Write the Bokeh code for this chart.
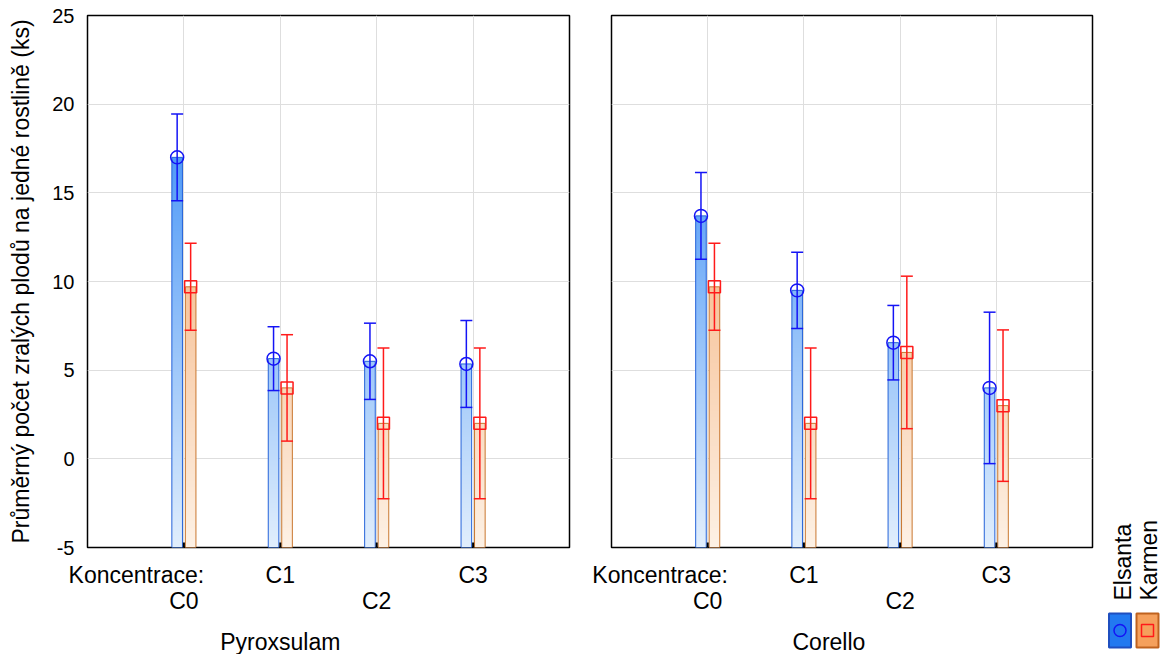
import numpy as np
from bokeh.plotting import figure
from bokeh.models import Range1d, FixedTicker
from bokeh.layouts import row, column
from bokeh.core.properties import value
from bokeh.embed import file_html
from bokeh.resources import INLINE

# ---- data ----
categories = ["C0", "C1", "C2", "C3"]
panels = ["Pyroxsulam", "Corello"]
series = ["Elsanta", "Karmen"]

pyro_elsanta_mean = [17.0, 5.65, 5.5, 5.35]
pyro_elsanta_err = [2.45, 1.8, 2.15, 2.45]
pyro_karmen_mean = [9.7, 4.0, 2.0, 2.0]
pyro_karmen_err = [2.45, 3.0, 4.25, 4.25]

corello_elsanta_mean = [13.7, 9.5, 6.55, 4.0]
corello_elsanta_err = [2.45, 2.15, 2.1, 4.27]
corello_karmen_mean = [9.7, 2.0, 6.0, 3.0]
corello_karmen_err = [2.45, 4.25, 4.3, 4.27]

y_ticks = [-5, 0, 5, 10, 15, 20, 25]
y_label = "Průměrný počet zralých plodů na jedné rostlině (ks)"
x_prefix = "Koncentrace:"

# ---- styles ----
FONT = "Liberation Sans"
YMIN, YMAX = -5, 25
XMIN, XMAX = 0, 5
FRAME_H = 532
PAGE_H = 654
TOP = 15
PANEL_BOTTOM = 12
BOT_H = PAGE_H - TOP - FRAME_H - PANEL_BOTTOM

grad = {
    "Elsanta": ((225, 238, 252), (30, 125, 245)),
    "Karmen": ((253, 241, 229), (240, 150, 80)),
}
edge = {"Elsanta": "#2563d9", "Karmen": "#c9772f"}
ecol = {"Elsanta": "#1414f5", "Karmen": "#ff1a1a"}
marker = {"Elsanta": "circle", "Karmen": "square"}
msize = {"Elsanta": 13, "Karmen": 12}
offset = {"Elsanta": -0.07, "Karmen": 0.07}
BW = 0.11


def gradient_img(top_val, name):
    n = max(2, int(round((top_val - YMIN) * 20)))
    ys = np.linspace(YMIN, top_val, n)
    t = (ys - YMIN) / (YMAX - YMIN)
    lo, hi = grad[name]
    img = np.empty((n, 1), dtype=np.uint32)
    v = img.view(dtype=np.uint8).reshape((n, 1, 4))
    for k in range(3):
        v[:, 0, k] = np.round(lo[k] + t * (hi[k] - lo[k])).astype(np.uint8)
    v[:, 0, 3] = 255
    return img


def make_panel(title, data, frame_w, border_l, border_r, show_y, title_x):
    p = figure(frame_width=frame_w, frame_height=FRAME_H,
               x_range=Range1d(XMIN, XMAX), y_range=Range1d(YMIN, YMAX),
               min_border_left=border_l, min_border_right=border_r,
               min_border_top=TOP, min_border_bottom=PANEL_BOTTOM,
               output_backend="svg", toolbar_location=None)
    p.frame_align = False
    p.outline_line_color = "black"
    p.outline_line_width = 1.5
    p.background_fill_color = "white"
    p.border_fill_color = "white"

    xpos = list(range(1, len(categories) + 1))
    p.xaxis.visible = False
    p.xgrid.ticker = FixedTicker(ticks=xpos)
    p.ygrid.ticker = FixedTicker(ticks=y_ticks)
    p.xgrid.grid_line_color = "#dedede"
    p.ygrid.grid_line_color = "#dedede"

    p.yaxis.ticker = FixedTicker(ticks=y_ticks)
    p.yaxis.major_tick_in = 0
    p.yaxis.major_tick_out = 0
    p.yaxis.minor_tick_line_color = None
    p.yaxis.axis_line_color = None
    if show_y:
        p.yaxis.major_label_overrides = {t: str(t) for t in y_ticks}
        p.yaxis.major_label_text_font = FONT
        p.yaxis.major_label_text_font_size = "20px"
        p.yaxis.major_label_text_color = "black"
        p.yaxis.major_label_standoff = 13
        p.yaxis.axis_label = y_label
        p.yaxis.axis_label_text_font = FONT
        p.yaxis.axis_label_text_font_size = "23px"
        p.yaxis.axis_label_text_font_style = "normal"
        p.yaxis.axis_label_text_color = "black"
        p.yaxis.axis_label_standoff = 15
    else:
        p.yaxis.visible = False

    for name in series:
        means, errs = data[name]
        xs = [x + offset[name] for x in xpos]
        for xc, m in zip(xs, means):
            p.image_rgba(image=[gradient_img(m, name)], x=xc - BW / 2, y=YMIN,
                         dw=BW, dh=m - YMIN)
        p.vbar(x=xs, top=means, bottom=YMIN, width=BW, fill_color=None,
               line_color=edge[name], line_width=1)
    # small inward ticks at the bottom edge (half of the dash is clipped)
    p.scatter(x=xpos, y=[YMIN] * len(xpos), marker="dash", angle=np.pi / 2,
              size=10, line_color="black", line_width=2)
    for name in series:
        means, errs = data[name]
        xs = [x + offset[name] for x in xpos]
        lo = [m - e for m, e in zip(means, errs)]
        hi = [m + e for m, e in zip(means, errs)]
        p.segment(x0=xs, y0=lo, x1=xs, y1=hi, line_color=ecol[name], line_width=1.5)
        p.scatter(x=xs, y=hi, marker="dash", size=12, line_color=ecol[name], line_width=1.5)
        p.scatter(x=xs, y=lo, marker="dash", size=12, line_color=ecol[name], line_width=1.5)
        p.scatter(x=xs, y=means, marker=marker[name], size=msize[name],
                  fill_color=None, line_color=ecol[name], line_width=1.5)

    # label strip under the panel, sharing the data x scale
    upp = (XMAX - XMIN) / frame_w
    total_w = border_l + frame_w + border_r
    b = figure(width=total_w, height=BOT_H,
               x_range=Range1d(XMIN - border_l * upp, XMAX + border_r * upp),
               y_range=Range1d(BOT_H, 0), min_border=0,
               x_axis_type=None, y_axis_type=None,
               output_backend="svg", toolbar_location=None)
    b.frame_align = False
    b.outline_line_color = None
    b.xgrid.visible = False
    b.ygrid.visible = False
    b.border_fill_color = "white"
    b.background_fill_color = "white"
    row1 = [c for i, c in enumerate(categories) if i % 2 == 1]
    row1x = [xpos[i] for i in range(len(categories)) if i % 2 == 1]
    row2 = [c for i, c in enumerate(categories) if i % 2 == 0]
    row2x = [xpos[i] for i in range(len(categories)) if i % 2 == 0]
    tf = dict(text_align="center", text_baseline="middle", text_font=value(FONT),
              text_font_size="23px", text_color="black")
    y1, y2, y3 = 27 - PANEL_BOTTOM, 53 - PANEL_BOTTOM, 94 - PANEL_BOTTOM
    b.text(x=row1x, y=[y1] * len(row1), text=row1, **tf)
    b.text(x=row2x, y=[y2] * len(row2), text=row2, **tf)
    b.text(x=[xpos[0] + 0.21], y=[y1], text=[x_prefix], text_align="right",
           text_baseline="middle", text_font=value(FONT), text_font_size="23px",
           text_color="black")
    b.text(x=[title_x], y=[y3], text=[title], **tf)
    return column(p, b)


c1 = make_panel(panels[0], {"Elsanta": (pyro_elsanta_mean, pyro_elsanta_err),
                            "Karmen": (pyro_karmen_mean, pyro_karmen_err)},
                482, 87, 15, True, 2.0)
c2 = make_panel(panels[1], {"Elsanta": (corello_elsanta_mean, corello_elsanta_err),
                            "Karmen": (corello_karmen_mean, corello_karmen_err)},
                481, 27, 10, False, 2.26)

# legend figure
LW = 62
pl = figure(width=LW, height=PAGE_H, x_range=Range1d(0, LW), y_range=Range1d(0, PAGE_H),
            min_border=0, x_axis_type=None, y_axis_type=None,
            output_backend="svg", toolbar_location=None)
pl.frame_align = False
pl.outline_line_color = None
pl.xgrid.visible = False
pl.ygrid.visible = False
pl.border_fill_color = "white"
pl.background_fill_color = "white"
leg_x = [20, 46]
sw_x = [17.5, 45]
sw_fill = {"Elsanta": "#2279f0", "Karmen": "#f5a05c"}
sw_line = {"Elsanta": "#1f4fbf", "Karmen": "#c0621e"}
for i, name in enumerate(series):
    pl.text(x=[leg_x[i]], y=[PAGE_H - 600], text=[name], angle=np.pi / 2,
            text_align="left", text_baseline="middle",
            text_font=value(FONT), text_font_size="23px", text_color="black")
    pl.rect(x=[sw_x[i]], y=[PAGE_H - 630], width=22, height=34,
            fill_color=sw_fill[name], line_color=sw_line[name], line_width=2)
    pl.scatter(x=[sw_x[i]], y=[PAGE_H - 630], marker=marker[name], size=12,
               fill_color=None, line_color=ecol[name], line_width=1.5)

layout = row(c1, c2, pl)
open("out.html", "w").write(file_html(layout, INLINE))
